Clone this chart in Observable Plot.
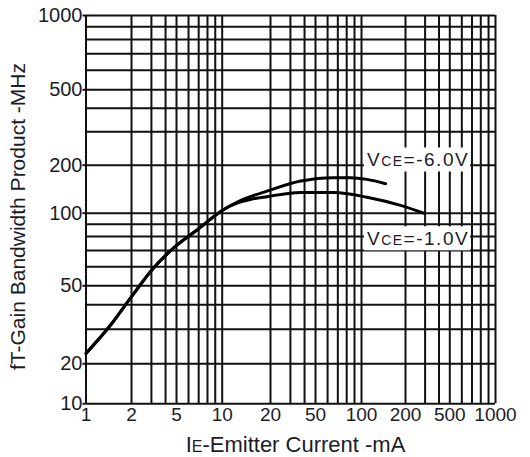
<!DOCTYPE html>
<html><head><meta charset="utf-8">
<script src="https://cdn.jsdelivr.net/npm/d3@7"></script>
<script src="https://cdn.jsdelivr.net/npm/@observablehq/plot@0.6"></script>
<style>html,body{margin:0;padding:0;background:#fff} svg{display:block}</style>
</head><body><div id="chart"></div>
<script>
// Tick labels and grid values (log decades with minor lines)
const xTicks = [1, 2, 5, 10, 20, 50, 100, 200, 500, 1000];
const yTicks = [10, 20, 50, 100, 200, 500, 1000];
const xGrid = [1,2,3,4,5,6,7,8,9,10,20,30,40,50,60,70,80,90,100,200,300,400,500,600,700,800,900,1000];
const yGrid = [10,20,30,40,50,60,70,80,90,100,200,300,400,500,600,700,800,900,1000];

// Shared low-current part of both curves (IE mA, fT MHz)
const currentShared = [1, 1.5, 2, 3, 5, 7, 10];
const gainShared    = [22.6, 32.5, 44, 57.9, 73.5, 86.2, 104];
// VCE = -6.0V branch
const current6V = [12.5, 15, 19, 37, 66, 85, 109, 146];
const gain6V    = [118, 127, 137.5, 159, 167, 167, 163, 153];
// VCE = -1.0V branch
const current1V = [12.5, 15, 19, 37, 66, 109, 185, 292];
const gain1V    = [116, 122, 127, 135, 135, 126, 112, 100];

// Curve labels and where they sit (data units)
const seriesLabels = ["VCE=-6.0V", "VCE=-1.0V"];
const labelCurrent = [109, 109];
const labelGain = [212, 78];

const xTitle = "IE-Emitter Current -mA";
const yTitle = "fT-Gain Bandwidth Product -MHz";

const toPts = (xs, ys) => xs.map((x, i) => ({x, y: ys[i]}));
const curve6 = toPts(currentShared.concat(current6V), gainShared.concat(gain6V));
const curve1 = toPts(currentShared.concat(current1V), gainShared.concat(gain1V));
const labels = seriesLabels.map((t, i) => ({t, x: labelCurrent[i], y: labelGain[i]}));

const font = "'Liberation Sans', Arial, sans-serif";
const ink = "#1c1c26";

const chart = Plot.plot({
  width: 530, height: 457,
  marginLeft: 85, marginRight: 35, marginTop: 15, marginBottom: 54,
  style: {fontFamily: font, color: ink, background: "#fff", overflow: "visible"},
  x: {type: "log", axis: null, domain: xTicks, range: [85.5, 131, 176, 221.7, 270, 315, 361, 405, 449.3, 495]},
  y: {type: "log", axis: null, domain: yTicks, range: [403.3, 363.3, 285.3, 212.7, 164.7, 89.3, 15]},
  marks: [
    Plot.ruleX(xGrid, {x: d => d, y1: 10, y2: 1000, stroke: "#111", strokeWidth: 2}),
    Plot.ruleY(yGrid, {y: d => d, x1: 1, x2: 1000, stroke: "#111", strokeWidth: 2}),
    // small outside tick stubs on the y axis
    Plot.ruleY(yTicks, {y: d => d, x1: 1, x2: 1, insetLeft: -3, stroke: "#111", strokeWidth: 2}),
    Plot.line(curve6, {x: "x", y: "y", curve: "monotone-x", stroke: "#000", strokeWidth: 3}),
    Plot.line(curve1, {x: "x", y: "y", curve: "monotone-x", stroke: "#000", strokeWidth: 3}),
    Plot.text(labels, {x: "x", y: "y", text: "t", textAnchor: "start", lineAnchor: "middle",
      fontSize: 19, fill: ink}),
    Plot.text(yTicks, {y: d => d, frameAnchor: "left", text: d => String(d), textAnchor: "end",
      lineAnchor: "middle", dx: -3, fontSize: 20, fill: ink}),
    Plot.text(xTicks, {x: d => d, frameAnchor: "bottom", text: d => String(d), textAnchor: "middle",
      lineAnchor: "top", dy: 4, fontSize: 19, fill: ink}),
    Plot.text([xTitle], {frameAnchor: "bottom", text: d => d, dy: 41, dx: 5, textAnchor: "middle",
      lineAnchor: "middle", fontSize: 22, fill: ink}),
    Plot.text([yTitle], {frameAnchor: "left", text: d => d, rotate: -90, dx: -67, dy: 7,
      textAnchor: "middle", lineAnchor: "middle", fontSize: 21, fill: ink})
  ]
});

document.getElementById("chart").appendChild(chart);

const svgEl = chart.tagName.toLowerCase() === "svg" ? chart : chart.querySelector("svg");
const svg = d3.select(svgEl);

// Small-caps subscripts: V_CE and I_E, plus white boxes behind the curve labels
svg.selectAll("text").each(function() {
  const el = d3.select(this);
  const txt = this.textContent;
  if (seriesLabels.includes(txt)) {
    el.text("").style("letter-spacing", "1.5px");
    el.append("tspan").text("V");
    el.append("tspan").attr("font-size", 14).text("CE");
    el.append("tspan").text(txt.slice(3));
    const b = this.getBBox();
    const tr = this.getAttribute("transform");
    const r = document.createElementNS("http://www.w3.org/2000/svg", "rect");
    r.setAttribute("x", b.x - 3); r.setAttribute("y", b.y - 2);
    r.setAttribute("width", b.width + 4); r.setAttribute("height", b.height + 3);
    r.setAttribute("fill", "#fff");
    if (tr) r.setAttribute("transform", tr);
    this.parentNode.insertBefore(r, this);
  } else if (txt === xTitle) {
    el.text("");
    el.append("tspan").text("I");
    el.append("tspan").attr("font-size", 16).text("E");
    el.append("tspan").text(txt.slice(2));
  }
});
</script>
</body></html>
